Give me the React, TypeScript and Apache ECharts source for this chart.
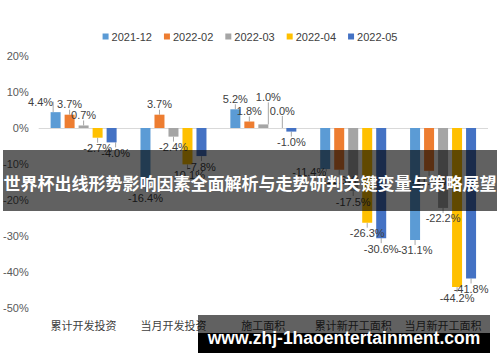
import React, { useEffect, useRef } from "react";
import * as echarts from "echarts";

const categories = ["累计开发投资", "当月开发投资", "施工面积", "累计新开工面积", "当月新开工面积"];
const seriesNames = ["2021-12", "2022-02", "2022-03", "2022-04", "2022-05"];
const s202112 = [4.4, -16.4, 5.2, -11.4, -31.1];
const s202202 = [3.7, 3.7, 1.8, -11.6, -11.9];
const s202203 = [0.7, -2.4, 1.0, -17.5, -22.2];
const s202204 = [-2.7, -10.1, 0.0, -26.3, -44.2];
const s202205 = [-4.0, -7.8, -1.0, -30.6, -41.8];
const yTicks = { min: -50, max: 20, interval: 10 };
const bannerText = "世界杯出线形势影响因素全面解析与走势研判关键变量与策略展望";
const watermarkText = "www.zhj-1haoentertainment.com";

const colors = ["#5B9BD5", "#ED7D31", "#A5A5A5", "#FFC000", "#4472C4"];

// label nudges (layout only): key = series-dataIndex
const labelNudges: Record<string, [number, number]> = {
  "0-0": [-15, 0],
  "4-0": [4, 0],
  "2-2": [5, -17],
  "3-2": [5, -7],
  "0-3": [-16, -8],
};

export default function App() {
  const ref = useRef<HTMLDivElement>(null);
  useEffect(() => {
    if (!ref.current) return;
    const chart = echarts.init(ref.current, null, { renderer: "svg" });
    const all = [s202112, s202202, s202203, s202204, s202205];
    const series = all.map((vals, si) => ({
      name: seriesNames[si],
      type: "bar",
      barWidth: 10,
      barGap: "40%",
      itemStyle: { color: colors[si] },
      data: vals.map((v) => ({
        value: v,
        label: { position: v >= 0 ? "top" : "bottom" },
      })),
      label: {
        show: true,
        distance: 5,
        color: "#404040",
        fontSize: 11,
        fontFamily: "Liberation Sans, Arial, sans-serif",
        formatter: (p: any) => Number(p.value).toFixed(1) + "%",
      },
      labelLine: { show: true, lineStyle: { color: "#a6a6a6", width: 1 } },
      labelLayout: (params: any) => {
        const n = labelNudges[`${si}-${params.dataIndex}`];
        return n ? { dx: n[0], dy: n[1] } : {};
      },
      markLine:
        si === 0
          ? {
              silent: true,
              symbol: "none",
              label: { show: false },
              lineStyle: { color: "#d9d9d9", type: "solid", width: 1 },
              data: [{ yAxis: 0 }],
              z: 1,
            }
          : undefined,
    }));

    chart.setOption({
      animation: false,
      backgroundColor: "#ffffff",
      legend: {
        top: 26,
        left: "center",
        itemWidth: 6,
        itemHeight: 6,
        itemGap: 12,
        icon: "rect",
        data: seriesNames,
        textStyle: {
          color: "#404040",
          fontSize: 11,
          fontFamily: "Liberation Sans, Arial, sans-serif",
          padding: [0, 0, 0, -2],
        },
      },
      grid: { left: 38, right: 12, top: 56, bottom: 54 },
      xAxis: {
        type: "category",
        data: categories,
        axisLine: { show: false },
        axisTick: { show: false },
        axisLabel: {
          interval: 0,
          color: "#404040",
          fontSize: 11,
          margin: 11,
          fontFamily: "Noto Sans CJK SC, sans-serif",
        },
      },
      yAxis: {
        type: "value",
        min: yTicks.min,
        max: yTicks.max,
        interval: yTicks.interval,
        axisLine: { show: false },
        axisTick: { show: false },
        splitLine: { show: false },
        axisLabel: {
          color: "#595959",
          fontSize: 11,
          margin: 10,
          fontFamily: "Liberation Sans, Arial, sans-serif",
          formatter: (v: number) => v + "%",
        },
      },
      series,
      graphic: [
        {
          type: "rect",
          x: 3,
          y: 150,
          shape: { width: 494, height: 61 },
          style: { fill: "rgba(0,0,0,0.62)" },
          z: 100,
        },
        {
          type: "text",
          x: 250,
          y: 182,
          style: {
            text: bannerText,
            fill: "#ffffff",
            font: 'bold 17px "Noto Sans CJK SC", sans-serif',
            textAlign: "center",
            textVerticalAlign: "middle",
          },
          z: 101,
        },
        {
          type: "rect",
          x: 198,
          y: 315,
          shape: { width: 292, height: 18 },
          style: { fill: "rgba(0,0,0,0.62)" },
          z: 100,
        },
        {
          type: "rect",
          x: 198,
          y: 333,
          shape: { width: 292, height: 20 },
          style: { fill: "#000000" },
          z: 100,
        },
        {
          type: "text",
          x: 344,
          y: 338,
          style: {
            text: watermarkText,
            fill: "#ffffff",
            font: 'bold 17.5px "Liberation Sans", Arial, sans-serif',
            textAlign: "center",
            textVerticalAlign: "middle",
          },
          z: 101,
        },
      ],
    });
    return () => chart.dispose();
  }, []);
  return (
    <div
      ref={ref}
      style={{ position: "fixed", left: 0, top: 0, width: 500, height: 362, background: "#fff" }}
    />
  );
}
